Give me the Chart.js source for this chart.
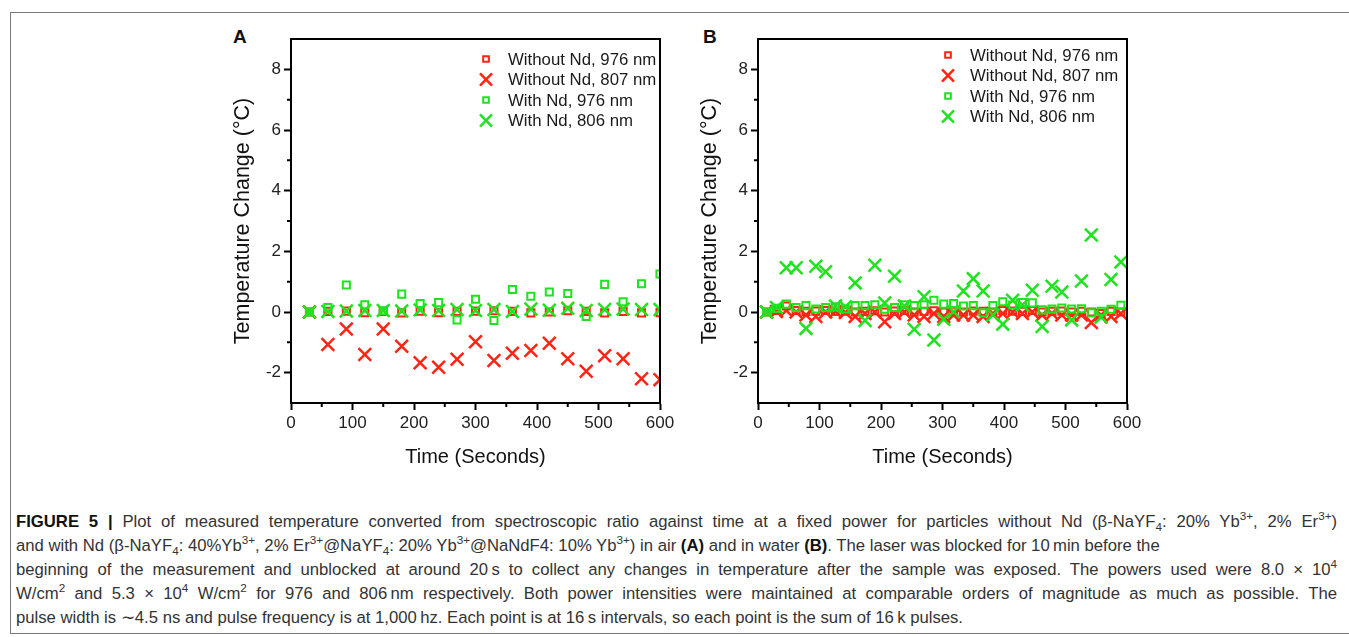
<!DOCTYPE html>
<html lang="en">
<head>
<meta charset="UTF-8">
<title>Figure 5 - Temperature change against time</title>
<script src="https://cdn.jsdelivr.net/npm/chart.js"></script>
<style>
  body { margin: 0; background: #fff; font-family: Arial, "Liberation Sans", sans-serif; }
  #frame { position: absolute; left: 10px; top: 12px; width: 1345px; height: 622px; border: 1px solid #777; box-sizing: border-box; }
  .panel { position: absolute; top: 20px; }
  #panelA { left: 220px; }
  #panelB { left: 687px; }
  .letter { position: absolute; font-weight: bold; font-size: 19px; line-height: 19px; top: 27px; color: #111; }
  #caption { position: absolute; left: 16px; top: 510px; width: 1321px; font-size: 16.7px; line-height: 24px; color: #333; }
  #caption .j { text-align: justify; text-align-last: justify; }
  #caption b { color: #111; }
  sup, sub { font-size: 0.7em; line-height: 0; }
</style>
</head>
<body>
<div id="frame"></div>
<div class="letter" style="left:233px">A</div>
<div class="letter" style="left:703px">B</div>
<canvas id="panelA" class="panel" width="470" height="460"></canvas>
<canvas id="panelB" class="panel" width="470" height="460"></canvas>

<div id="caption">
  <div class="j"><b>FIGURE 5 |</b> Plot of measured temperature converted from spectroscopic ratio against time at a fixed power for particles without Nd (β-NaYF<sub>4</sub>: 20% Yb<sup>3+</sup>, 2% Er<sup>3+</sup>)</div>
  <div>and with Nd (β-NaYF<sub>4</sub>: 40%Yb<sup>3+</sup>, 2% Er<sup>3+</sup>@NaYF<sub>4</sub>: 20% Yb<sup>3+</sup>@NaNdF4: 10% Yb<sup>3+</sup>) in air <b>(A)</b> and in water <b>(B)</b>. The laser was blocked for 10&thinsp;min before the</div>
  <div class="j">beginning of the measurement and unblocked at around 20&thinsp;s to collect any changes in temperature after the sample was exposed. The powers used were 8.0 × 10<sup>4</sup></div>
  <div class="j">W/cm<sup>2</sup> and 5.3 × 10<sup>4</sup> W/cm<sup>2</sup> for 976 and 806&thinsp;nm respectively. Both power intensities were maintained at comparable orders of magnitude as much as possible. The</div>
  <div>pulse width is ∼4.5 ns and pulse frequency is at 1,000&thinsp;hz. Each point is at 16&thinsp;s intervals, so each point is the sum of 16&thinsp;k pulses.</div>
</div>

<script>
  // Panel A (in air): one point every 30 s
  const timeA = [30, 60, 90, 120, 150, 180, 210, 240, 270, 300, 330, 360, 390, 420, 450, 480, 510, 540, 570, 600];
  const noNd976A = [0, 0.02, 0.03, -0.02, 0.02, -0.03, 0.03, -0.02, 0.02, 0.03, 0.04, 0.02, -0.03, 0.0, 0.04, 0.02, -0.03, 0.02, -0.03, -0.02];
  const noNd807A = [0, -1.07, -0.56, -1.40, -0.56, -1.13, -1.67, -1.82, -1.56, -0.98, -1.60, -1.36, -1.27, -1.03, -1.54, -1.95, -1.44, -1.54, -2.20, -2.23];
  const nd976A = [0, 0.15, 0.89, 0.24, 0.04, 0.59, 0.28, 0.31, -0.26, 0.42, -0.28, 0.74, 0.52, 0.66, 0.61, -0.15, 0.91, 0.34, 0.93, 1.25];
  const nd806A = [0, 0.02, 0.03, 0.05, 0.05, 0.03, 0.07, 0.05, 0.08, 0.05, 0.08, 0.02, 0.10, 0.06, 0.12, 0.05, 0.08, 0.10, 0.08, 0.08];

  // Panel B (in water): one point every 16 s
  const timeB = [14, 30, 46, 62, 78, 94, 110, 126, 142, 158, 174, 190, 206, 222, 238, 254, 270, 286, 302, 318, 334, 350, 366, 382, 398, 414, 430, 446, 462, 478, 494, 510, 526, 542, 558, 574, 590];
  const noNd976B = [0, 0.05, 0.2, 0.05, 0.02, 0.03, 0.05, 0.02, 0.03, 0.0, 0.02, 0.04, 0.0, 0.03, 0.05, 0.0, 0.02, 0.04, 0.0, 0.02, 0.0, 0.03, 0.02, 0.0, 0.05, 0.03, 0.02, 0.05, 0.0, 0.02, 0.03, 0.0, 0.02, 0.0, -0.05, 0.02, 0.0];
  const noNd807B = [0, 0.02, 0.05, 0, -0.1, -0.15, 0, 0.02, -0.02, -0.15, -0.05, 0, -0.32, -0.05, 0, -0.1, -0.15, -0.05, -0.15, -0.1, -0.1, -0.1, -0.15, -0.05, -0.05, 0, -0.05, 0, -0.1, -0.05, -0.1, -0.1, -0.1, -0.35, -0.1, -0.15, -0.05];
  const nd976B = [0, 0.12, 0.26, 0.15, 0.21, 0.1, 0.15, 0.17, 0.1, 0.21, 0.21, 0.24, 0.09, 0.15, 0.24, 0.21, 0.24, 0.39, 0.26, 0.28, 0.2, 0.21, -0.03, 0.21, 0.34, 0.23, 0.31, 0.3, 0.07, 0.1, 0.13, 0.1, 0.11, -0.03, 0.02, 0.09, 0.22];
  const nd806B = [0, 0.15, 1.46, 1.46, -0.54, 1.51, 1.33, 0.2, 0.17, 0.96, -0.28, 1.54, 0.3, 1.18, 0.2, -0.57, 0.5, -0.92, -0.24, 0.01, 0.69, 1.1, 0.69, -0.1, -0.4, 0.39, 0.23, 0.72, -0.48, 0.85, 0.66, -0.26, 1.02, 2.54, -0.17, 1.07, 1.65];

  const seriesLabels = ['Without Nd, 976 nm', 'Without Nd, 807 nm', 'With Nd, 976 nm', 'With Nd, 806 nm'];
  const xTicks = [0, 100, 200, 300, 400, 500, 600];
  const xMinor = [50, 150, 250, 350, 450, 550];
  const yTicks = [-2, 0, 2, 4, 6, 8];
  const yMinor = [-1, 1, 3, 5, 7];

  const RED = '#ff2414';
  const GREEN = '#1ee31e';
  // marker style per series, same order as seriesLabels
  const styles = [
    { color: RED,   pointStyle: 'rect',     radius: 5, width: 2,   legendRadius: 4,   order: 3 },
    { color: RED,   pointStyle: 'crossRot', radius: 9, width: 2.5, legendRadius: 8.5, order: 2 },
    { color: GREEN, pointStyle: 'rect',     radius: 5, width: 2,   legendRadius: 4,   order: 1 },
    { color: GREEN, pointStyle: 'crossRot', radius: 9, width: 2.5, legendRadius: 8.5, order: 0 }
  ];

  // box around the plot, minor ticks and the legend inside the plot
  const framePlugin = {
    id: 'frame',
    afterDraw(chart, args, opts) {
      const { ctx, chartArea: a, scales: { x, y } } = chart;
      ctx.save();
      ctx.strokeStyle = '#000';
      ctx.lineWidth = 2;
      ctx.strokeRect(a.left, a.top, a.right - a.left, a.bottom - a.top);
      ctx.beginPath();
      xMinor.forEach(v => {
        const px = x.getPixelForValue(v);
        ctx.moveTo(px, a.bottom); ctx.lineTo(px, a.bottom + 4);
      });
      yMinor.forEach(v => {
        const py = y.getPixelForValue(v);
        ctx.moveTo(a.left, py); ctx.lineTo(a.left - 4, py);
      });
      ctx.stroke();

      // legend
      const mx = a.right - opts.fromRight;
      ctx.font = '16.8px Arial';
      ctx.textBaseline = 'middle';
      ctx.textAlign = 'left';
      seriesLabels.forEach((label, i) => {
        const s = styles[i];
        const my = a.top + opts.fromTop + i * 20.5;
        ctx.strokeStyle = s.color;
        ctx.fillStyle = 'rgba(0,0,0,0)';
        ctx.lineWidth = s.width;
        Chart.helpers.drawPoint(ctx, { pointStyle: s.pointStyle, rotation: 0, radius: s.legendRadius, borderWidth: s.width }, mx, my);
        ctx.fillStyle = '#1a1a1a';
        ctx.fillText(label, mx + 22, my + 1);
      });
      ctx.restore();
    }
  };

  function makeChart(id, time, series, legendPos) {
    const datasets = series.map((vals, i) => ({
      label: seriesLabels[i],
      data: time.map((t, k) => ({ x: t, y: vals[k] })),
      pointStyle: styles[i].pointStyle,
      pointRadius: styles[i].radius,
      pointBorderWidth: styles[i].width,
      pointBorderColor: styles[i].color,
      pointBackgroundColor: 'rgba(0,0,0,0)',
      order: styles[i].order,
      clip: 0
    }));

    return new Chart(document.getElementById(id), {
      type: 'scatter',
      data: { datasets },
      plugins: [framePlugin],
      options: {
        responsive: false,
        animation: false,
        events: [],
        layout: { padding: { top: 19, right: 30, left: 0, bottom: 0 } },
        plugins: {
          legend: { display: false },
          tooltip: { enabled: false },
          frame: legendPos
        },
        scales: {
          x: {
            type: 'linear',
            min: 0,
            max: 600,
            afterBuildTicks: s => { s.ticks = xTicks.map(v => ({ value: v })); },
            afterFit: s => { s.height = 77; },
            ticks: { font: { size: 17, family: 'Arial' }, color: '#222', padding: 3 },
            grid: { drawOnChartArea: false, tickLength: 7, tickWidth: 2, tickColor: '#000' },
            border: { color: '#000', width: 2 },
            title: {
              display: true,
              text: 'Time (Seconds)',
              font: { size: 20, family: 'Arial' },
              color: '#111',
              padding: { top: 0, bottom: 11 }
            }
          },
          y: {
            type: 'linear',
            min: -3,
            max: 9,
            afterBuildTicks: s => { s.ticks = yTicks.map(v => ({ value: v })); },
            afterFit: s => { s.width = 71; },
            ticks: { font: { size: 17, family: 'Arial' }, color: '#222', padding: 3 },
            grid: { drawOnChartArea: false, tickLength: 7, tickWidth: 2, tickColor: '#000' },
            border: { color: '#000', width: 2 },
            title: {
              display: true,
              text: 'Temperature Change (°C)',
              font: { size: 21.5, family: 'Arial' },
              color: '#111',
              padding: { top: 10, bottom: 0 }
            }
          }
        }
      }
    });
  }

  makeChart('panelA', timeA, [noNd976A, noNd807A, nd976A, nd806A], { fromRight: 174, fromTop: 20 });
  makeChart('panelB', timeB, [noNd976B, noNd807B, nd976B, nd806B], { fromRight: 179, fromTop: 16 });
</script>
</body>
</html>
